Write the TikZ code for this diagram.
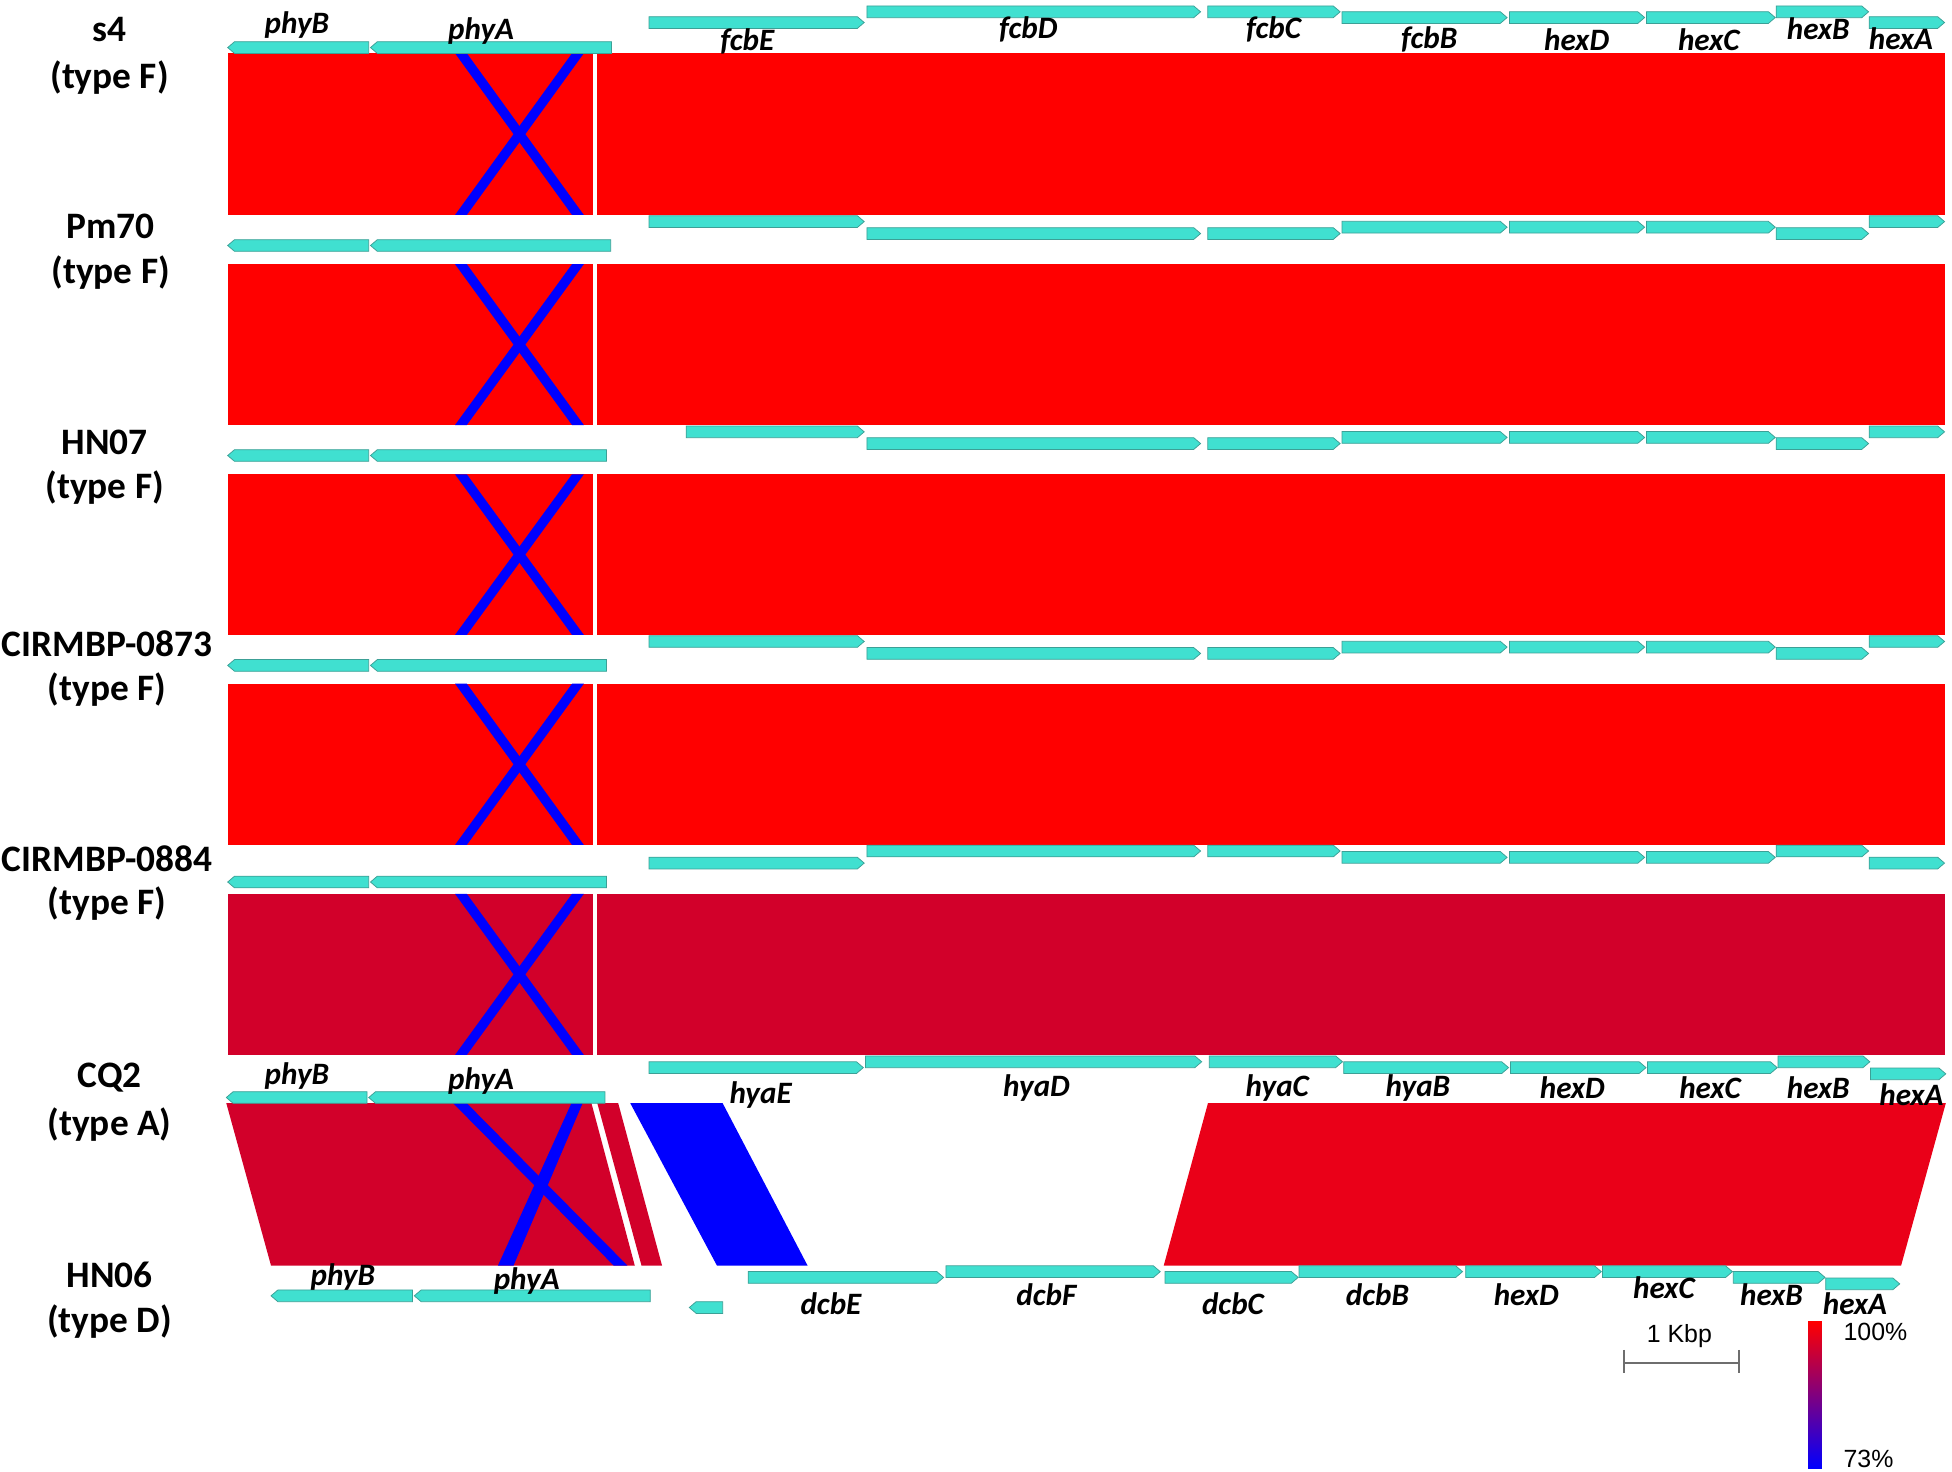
\documentclass[tikz,border=0pt]{standalone}
\usepackage{fontspec}
\setmainfont{Carlito}
\newfontfamily\arialf{Liberation Sans}
\definecolor{geneF}{RGB}{64,224,208}
\definecolor{geneD}{RGB}{60,160,150}
\definecolor{hitR}{RGB}{255,0,0}
\definecolor{hitC}{RGB}{210,0,42}
\definecolor{hitRb}{RGB}{234,0,24}
\definecolor{hitB}{RGB}{0,0,255}
\definecolor{barG}{RGB}{110,110,110}
\tikzset{
  gene/.style={fill=geneF, draw=geneD, line width=0.3pt, line join=miter},
  glab/.style={font=\fontsize{12.5}{14}\selectfont\bfseries\itshape, inner sep=0pt},
  slab/.style={font=\fontsize{15}{18}\selectfont\bfseries, inner sep=0pt},
  alab/.style={font=\arialf\fontsize{10}{12}\selectfont, inner sep=0pt},
}
% right / left pointing gene: x1, x2, ytop
\newcommand{\gR}[3]{\path[gene] (#1,#3) -- ({#2-5.5},#3) -- (#2,{#3+4.7}) -- ({#2-5.5},{#3+9.4}) -- (#1,{#3+9.4}) -- cycle;}
\newcommand{\gL}[3]{\path[gene] (#2,#3) -- ({#1+5.5},#3) -- (#1,{#3+4.7}) -- ({#1+5.5},{#3+9.4}) -- (#2,{#3+9.4}) -- cycle;}
% type F comparison block: ytop, ybottom, colour
\newcommand{\fblock}[3]{%
  \fill[#3] (182.9,#1) rectangle (476.3,#2);
  \fill[#3] (479.8,#1) rectangle (1562,#2);
  \fill[hitB] (365.5,#1) -- (375,#1) -- (469,#2) -- (459.5,#2) -- cycle;
  \fill[hitB] (459.5,#1) -- (469,#1) -- (375,#2) -- (365.5,#2) -- cycle;
}
% type F gene track: top, mid, low, phy, fcbE start, phyA end
\newcommand{\ftrackA}[6]{%
  \gL{182.9}{296.2}{#4}\gL{297.6}{#6}{#4}
  \gR{#5}{694.2}{#1}
  \gR{696.4}{964.4}{#3}\gR{970.2}{1076.5}{#3}
  \gR{1078}{1210.6}{#2}\gR{1212.5}{1321.1}{#2}\gR{1322.6}{1426}{#2}
  \gR{1426.8}{1501}{#3}\gR{1501.5}{1562}{#1}
}
\begin{document}
\begin{tikzpicture}[x=0.5pt,y=-0.5pt]
\useasboundingbox (0,0) rectangle (1568,1182);
\fill[white] (0,0) rectangle (1568,1182);

% ---------- comparison blocks ----------
\fblock{42.8}{172.7}{hitR}
\fblock{212.2}{341.4}{hitR}
\fblock{381}{510}{hitR}
\fblock{549.2}{678.7}{hitR}
\fblock{718}{847.4}{hitC}

% CQ2 vs HN06
\fill[hitC] (181.8,886.2) -- (475.1,886.2) -- (509.9,1016.6) -- (217.7,1016.6) -- cycle;
\fill[hitC] (479.8,886.2) -- (496.6,886.2) -- (531.8,1016.6) -- (515.3,1016.6) -- cycle;
\fill[hitB] (364,886.2) -- (375,886.2) -- (504,1016.6) -- (493,1016.6) -- cycle;
\fill[hitB] (459,886.2) -- (468,886.2) -- (412.5,1016.6) -- (400,1016.6) -- cycle;
\fill[hitB] (506.3,886.2) -- (580.5,886.2) -- (648.7,1016.6) -- (575.9,1016.6) -- cycle;
\fill[hitRb] (970.3,886.2) -- (1563,886.2) -- (1527.1,1016.6) -- (934.8,1016.6) -- cycle;

% ---------- genes ----------
% s4
\gL{182.9}{296.2}{33.5}\gL{297.6}{491.2}{33.5}
\gR{521.4}{694.2}{13.4}
\gR{696.4}{964.4}{4.8}\gR{970.2}{1076.5}{4.8}
\gR{1078}{1210.6}{9.4}\gR{1212.5}{1321.1}{9.4}\gR{1322.6}{1426}{9.4}
\gR{1426.8}{1501}{4.8}\gR{1501.5}{1562}{13.4}
% Pm70, HN07, CIRMBP-0873
\ftrackA{173.3}{177.8}{182.9}{192.5}{521.4}{490.5}
\ftrackA{342.2}{346.7}{351.6}{361.2}{551.2}{487.2}
\ftrackA{510.6}{515.1}{520.2}{529.8}{521.4}{487.2}
% CIRMBP-0884
\gL{182.9}{296.2}{703.8}\gL{297.6}{487.2}{703.8}
\gR{521.4}{694.2}{688.6}
\gR{696.4}{964.4}{678.9}\gR{970.2}{1076.5}{678.9}
\gR{1078}{1210.6}{684}\gR{1212.5}{1321.1}{684}\gR{1322.6}{1426}{684}
\gR{1426.8}{1501}{678.9}\gR{1501.5}{1562}{688.6}
% CQ2
\gL{181.8}{294.8}{876.9}\gL{296.2}{485.9}{876.9}
\gR{521.4}{693.5}{852.9}
\gR{695.3}{965.3}{848.2}\gR{971.4}{1078.4}{848.2}
\gR{1079.3}{1211.8}{852.9}\gR{1213.3}{1322.2}{852.9}\gR{1323.3}{1427.6}{852.9}
\gR{1428.3}{1502}{848.2}\gR{1502.5}{1563}{857.9}
% HN06
\gL{217.7}{331.3}{1036.2}\gL{332.8}{522.4}{1036.2}
\gL{553.7}{580.5}{1045.6}
\gR{601}{758}{1021.4}\gR{759.8}{932}{1016.8}\gR{935.9}{1042.8}{1021.4}
\gR{1043.5}{1174.8}{1016.8}\gR{1177.3}{1286.3}{1016.8}\gR{1287.3}{1391.6}{1016.8}
\gR{1392.3}{1466}{1021.4}\gR{1466.5}{1526}{1026.6}

% ---------- gene labels ----------
\node[glab] (s4phyB) at (238.5,20.5) {phyB};
\node[glab] (s4phyA) at (386.5,25) {phyA};
\node[glab] (s4fcbE) at (600.3,33) {fcbE};
\node[glab] (s4fcbD) at (826,24) {fcbD};
\node[glab] (s4fcbC) at (1023,24) {fcbC};
\node[glab] (s4fcbB) at (1148,32) {fcbB};
\node[glab] (s4hexD) at (1266.5,32) {hexD};
\node[glab] (s4hexC) at (1372.6,32) {hexC};
\node[glab] (s4hexB) at (1460.6,23) {hexB};
\node[glab] (s4hexA) at (1527,31) {hexA};

\node[glab] (cqphyB) at (238.5,864) {phyB};
\node[glab] (cqphyA) at (386.5,868) {phyA};
\node[glab] (cqhyaE) at (611,879.5) {hyaE};
\node[glab] (cqhyaD) at (832.6,874) {hyaD};
\node[glab] (cqhyaC) at (1026,874) {hyaC};
\node[glab] (cqhyaB) at (1139,874) {hyaB};
\node[glab] (cqhexD) at (1263,874) {hexD};
\node[glab] (cqhexC) at (1373.6,874) {hexC};
\node[glab] (cqhexB) at (1460.6,874) {hexB};
\node[glab] (cqhexA) at (1535.4,879) {hexA};

\node[glab] (hnphyB) at (275.4,1025.5) {phyB};
\node[glab] (hnphyA) at (423.1,1029) {phyA};
\node[glab] (hndcbE) at (667.5,1047.5) {dcbE};
\node[glab] (hndcbF) at (840.5,1040) {dcbF};
\node[glab] (hndcbC) at (990.4,1047.5) {dcbC};
\node[glab] (hndcbB) at (1106.5,1040) {dcbB};
\node[glab] (hnhexD) at (1226,1040) {hexD};
\node[glab] (hnhexC) at (1336.6,1034.6) {hexC};
\node[glab] (hnhexB) at (1423,1040) {hexB};
\node[glab] (hnhexA) at (1490,1047) {hexA};

% ---------- genome labels ----------
\node[slab] (n1) at (88,24) {s4};
\node[slab] (t1) at (88,62) {(type F)};
\node[slab] (n2) at (89,182) {Pm70};
\node[slab] (t2) at (89,219) {(type F)};
\node[slab] (n3) at (84,355) {HN07};
\node[slab] (t3) at (84,392) {(type F)};
\node[slab] (n4) at (86,517) {CIRMBP-0873};
\node[slab] (t4) at (86,554) {(type F)};
\node[slab] (n5) at (86,690) {CIRMBP-0884};
\node[slab] (t5) at (86,726) {(type F)};
\node[slab] (n6) at (88,866) {CQ2};
\node[slab] (t6) at (88,903.5) {(type A)};
\node[slab] (n7) at (88,1024) {HN06};
\node[slab] (t7) at (88,1061.5) {(type D)};

% ---------- scale bar and legend ----------
\node[alab] (kbp) at (1349,1073) {1 Kbp};
\coordinate (sbL) at (1304.3,1094.5);
\coordinate (sbR) at (1397,1094.5);
\draw[barG, line width=0.8pt] (sbL) -- (sbR);
\draw[barG, line width=0.8pt] (1304.3,1084.3) -- (1304.3,1103);
\draw[barG, line width=0.8pt] (1397,1084.3) -- (1397,1103);
\shade[top color=hitR, bottom color=hitB] (1452.4,1061.6) rectangle (1463.5,1179.9);
\node[alab, anchor=west] (p100) at (1480.5,1070) {100\%};
\node[alab, anchor=west] (p73) at (1480.5,1172) {73\%};
\end{tikzpicture}
\end{document}
